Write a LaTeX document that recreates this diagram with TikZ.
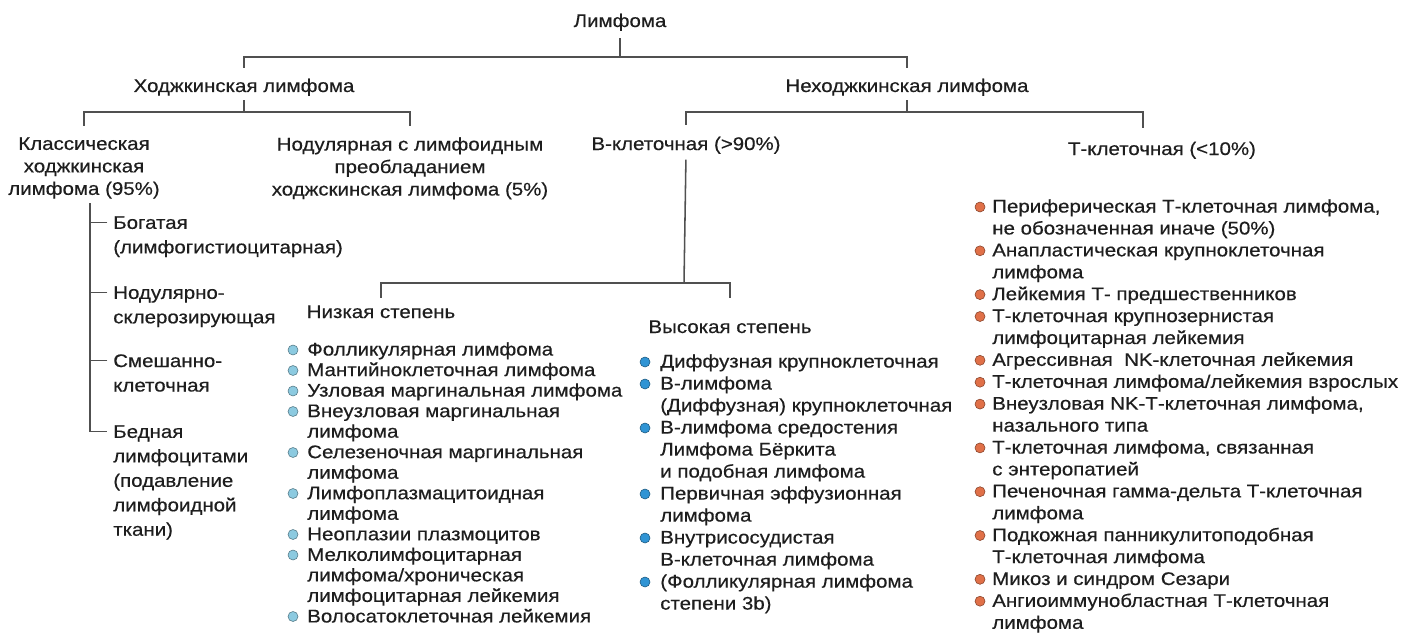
\documentclass[tikz,border=0pt]{standalone}
\usepackage{fontspec}
\setmainfont{Liberation Sans}[FakeStretch=1.12, FakeBold=0.4]
\usepackage{tikz}
\usetikzlibrary{positioning,calc}
\definecolor{treegray}{RGB}{80,80,80}
\definecolor{inkblack}{RGB}{30,30,30}
\definecolor{lowblue}{RGB}{140,202,224}
\definecolor{highblue}{RGB}{48,148,212}
\definecolor{torange}{RGB}{224,112,72}
\newcommand\lblfont{\fontsize{13}{16}\selectfont}
\newcommand\subfont{\fontsize{13}{17.4}\selectfont}
\newcommand\lowfont{\fontsize{13}{14.6}\selectfont}
\newcommand\highfont{\fontsize{13}{15.65}\selectfont}
\newcommand\tfont{\fontsize{13}{15.58}\selectfont}

\begin{document}
\begin{tikzpicture}[x=0.025cm, y=-0.025cm,
  every node/.style={text=inkblack, inner sep=0pt},
  lbl/.style={font=\lblfont, align=center},
  sub/.style={font=\subfont, anchor=north west, align=left},
  lst/.style={anchor=north west, align=left},
  tree/.style={draw=treegray, line width=1.1pt}]
  \useasboundingbox[fill=white] (0,0) rectangle (1407,644);

  % tree labels
  \node[lbl, anchor=base] (lym) at (620,27) {Лимфома};
  \node[lbl, anchor=base] (hod) at (244,92) {Ходжкинская лимфома};
  \node[lbl, anchor=base] (nhod) at (907,92) {Неходжкинская лимфома};
  \node[lbl, anchor=north] (cls) at (84,137) {Классическая\\ходжкинская\\лимфома (95\%)};
  \node[lbl, anchor=north] (nod) at (410,137) {Нодулярная с лимфоидным\\преобладанием\\ходжскинская лимфома (5\%)};
  \node[lbl, anchor=base] (bcell) at (686,150) {В-клеточная (>90\%)};
  \node[lbl, anchor=base] (tcell) at (1162,155) {Т-клеточная (<10\%)};
  \node[lbl, anchor=base] (lowhd) at (381,318) {Низкая степень};
  \node[lbl, anchor=base] (highhd) at (730,333) {Высокая степень};

  \coordinate (j0) at (620,57);
  \coordinate (j1) at (244,112);
  \coordinate (j2) at (907,112);
  \coordinate (j3) at (684,283);
  \coordinate (tdrop) at (1143,128);

  \draw[tree, shorten <=5pt] (lym.south) -- (j0);
  \draw[tree, shorten <=7.5pt, shorten >=7.5pt] (hod.north) |- (j0) -| (nhod.north);
  \draw[tree, shorten <=3pt] (hod.south) -- (j1);
  \draw[tree, shorten <=8pt, shorten >=8pt] (cls.north) |- (j1) -| (nod.north);
  \draw[tree, shorten <=3pt] (nhod.south) -- (j2);
  \draw[tree, shorten >=8pt] (j2) -| (bcell.north);
  \draw[tree] (j2) -| (tdrop);
  \draw[tree, shorten <=4pt] (bcell.south) -- (j3);
  \draw[tree, shorten >=5pt] (j3) -| (lowhd.north);
  \draw[tree, shorten >=16pt] (j3) -| (highhd.north);

  % classical subtypes
  \node[sub] (rich) at (113,216) {Богатая\\(лимфогистиоцитарная)};
  \node[sub] (nscl) at (113,286) {Нодулярно-\\склерозирующая};
  \node[sub] (mixd) at (113,354) {Смешанно-\\клеточная};
  \node[sub] (poor) at (113,425) {Бедная\\лимфоцитами\\(подавление\\лимфоидной\\ткани)};
  \draw[tree] ([xshift=4.3pt,yshift=-3pt]cls.south) |- ([xshift=-4pt,yshift=-4.7pt]poor.north west);
  \foreach \s in {rich,nscl,mixd}
    \draw[tree] ([xshift=-4pt,yshift=-4.7pt]\s.north west) -- ++(-17,0);

  % low grade B
  \node[lst, font=\lowfont] (lowlist) at (307,342) {Фолликулярная лимфома\\
    Мантийноклеточная лимфома\\
    Узловая маргинальная лимфома\\
    Внеузловая маргинальная\\
    лимфома\\
    Селезеночная маргинальная\\
    лимфома\\
    Лимфоплазмацитоидная\\
    лимфома\\
    Неоплазии плазмоцитов\\
    Мелколимфоцитарная\\
    лимфома/хроническая\\
    лимфоцитарная лейкемия\\
    Волосатоклеточная лейкемия};
  \foreach \k in {0,1,2,3,5,7,9,10,13}
    \filldraw[fill=lowblue, draw=lowblue!60!black, line width=0.4pt] (293,{350+20.5*\k}) circle (5);

  % high grade B
  \node[lst, font=\highfont] (highlist) at (660,354) {Диффузная крупноклеточная\\
    В-лимфома\\
    (Диффузная) крупноклеточная\\
    В-лимфома средостения\\
    Лимфома Бёркита\\
    и подобная лимфома\\
    Первичная эффузионная\\
    лимфома\\
    Внутрисосудистая\\
    В-клеточная лимфома\\
    (Фолликулярная лимфома\\
    степени 3b)};
  \foreach \k in {0,1,3,6,8,10}
    \filldraw[fill=highblue, draw=highblue!60!black, line width=0.4pt] (645,{362+22*\k}) circle (5);

  % T cell
  \node[lst, font=\tfont] (tlist) at (992,199) {Периферическая Т-клеточная лимфома,\\
    не обозначенная иначе (50\%)\\
    Анапластическая крупноклеточная\\
    лимфома\\
    Лейкемия Т- предшественников\\
    Т-клеточная крупнозернистая\\
    лимфоцитарная лейкемия\\
    Агрессивная\ \ NK-клеточная лейкемия\\
    Т-клеточная лимфома/лейкемия взрослых\\
    Внеузловая NK-Т-клеточная лимфома,\\
    назального типа\\
    Т-клеточная лимфома, связанная\\
    с энтеропатией\\
    Печеночная гамма-дельта Т-клеточная\\
    лимфома\\
    Подкожная панникулитоподобная\\
    Т-клеточная лимфома\\
    Микоз и синдром Сезари\\
    Ангиоиммунобластная Т-клеточная\\
    лимфома};
  \foreach \k in {0,2,4,5,7,8,9,11,13,15,17,18}
    \filldraw[fill=torange, draw=torange!60!black, line width=0.4pt] (980,{207+21.9*\k}) circle (5);
\end{tikzpicture}
\end{document}
